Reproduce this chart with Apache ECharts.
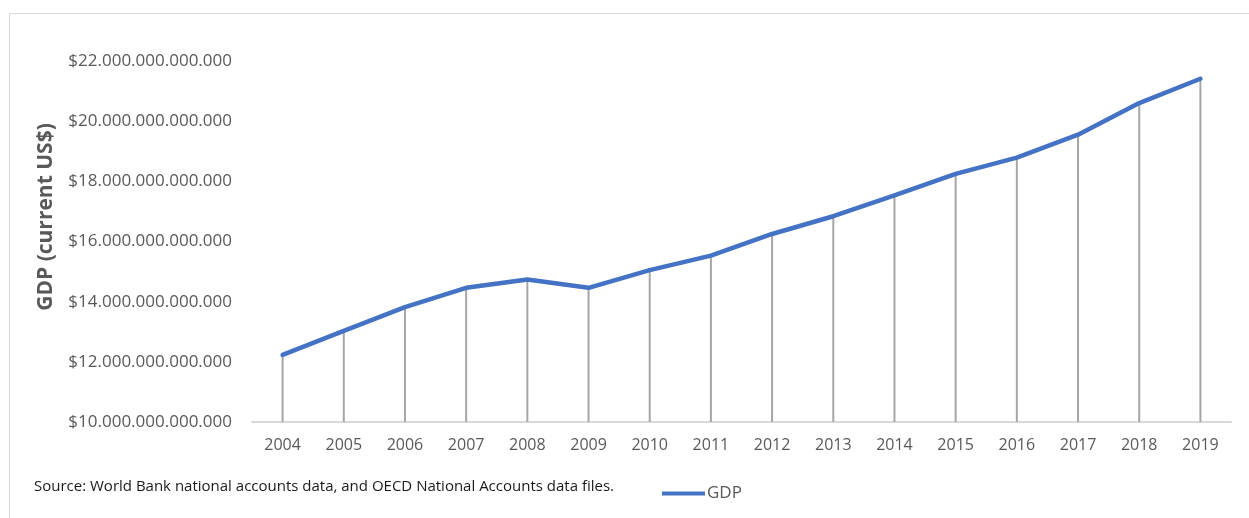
<!DOCTYPE html>
<html>
<head>
<meta charset="utf-8">
<script src="https://cdn.jsdelivr.net/npm/echarts@6/dist/echarts.min.js"></script>
<style>
  html, body { margin: 0; padding: 0; background: #fff; }
  #chart { width: 1249px; height: 518px; }
</style>
</head>
<body>
<div id="chart"></div>
<script>
// US GDP, current US$, 2004-2019
const years = ['2004', '2005', '2006', '2007', '2008', '2009', '2010', '2011',
               '2012', '2013', '2014', '2015', '2016', '2017', '2018', '2019'];
const gdp = [12.23e12, 13.03e12, 13.82e12, 14.46e12, 14.74e12, 14.46e12, 15.05e12, 15.53e12,
             16.25e12, 16.84e12, 17.53e12, 18.25e12, 18.79e12, 19.55e12, 20.60e12, 21.41e12];
const yMin = 10e12;
const yMax = 22e12;
const yStep = 2e12;
const yTitle = 'GDP (current US$)';
const seriesName = 'GDP';
const sourceNote = 'Source: World Bank national accounts data, and OECD National Accounts data files.';

const FONT = '"Open Sans", "Noto Sans", sans-serif';
const GREY_TEXT = '#595959';

// "$22.000.000.000.000" style: dot as thousands separator
function money(v) {
  const s = Math.round(v).toString().replace(/\B(?=(\d{3})+(?!\d))/g, '.');
  return '$' + s;
}

const chart = echarts.init(document.getElementById('chart'), null, { renderer: 'canvas' });

chart.setOption({
  backgroundColor: '#ffffff',
  animation: false,
  textStyle: { fontFamily: FONT },
  graphic: [
    {
      type: 'rect',
      left: 7, top: 11,
      shape: { width: 1400, height: 700 },
      style: { fill: 'none', stroke: '#D9D9D9', lineWidth: 1 },
      z: -10
    },
    {
      type: 'text',
      left: 34, top: 479,
      style: { text: sourceNote, font: '15px ' + FONT, fill: '#1a1a1a' }
    },
    {
      // rotated value-axis title
      type: 'text',
      x: 46, y: 217,
      rotation: Math.PI / 2,
      style: {
        text: yTitle,
        font: 'bold 21px ' + FONT,
        fill: GREY_TEXT,
        align: 'center',
        verticalAlign: 'middle'
      }
    }
  ],
  legend: {
    data: [seriesName],
    left: 657, top: 480,
    icon: 'rect',
    itemWidth: 43, itemHeight: 4,
    itemGap: 4,
    textStyle: { color: GREY_TEXT, fontSize: 17, fontFamily: FONT, padding: [0, 0, 0, -3] }
  },
  grid: { left: 252, right: 18, top: 61, bottom: 96, containLabel: false },
  xAxis: {
    type: 'category',
    data: years,
    boundaryGap: true,
    axisLine: { show: true, lineStyle: { color: '#D9D9D9', width: 2 } },
    axisTick: { show: false },
    axisLabel: { color: GREY_TEXT, fontSize: 16, fontFamily: FONT, margin: 15 },
    splitLine: { show: false }
  },
  yAxis: {
    type: 'value',
    min: yMin, max: yMax, interval: yStep,
    axisLine: { show: false },
    axisTick: { show: false },
    splitLine: { show: false },
    axisLabel: { color: GREY_TEXT, fontSize: 17, fontFamily: FONT, margin: 20, formatter: money }
  },
  series: [
    {
      // vertical drop lines from each point down to the category axis
      type: 'custom',
      name: 'drop',
      silent: true,
      z: 1,
      data: years.map((y, i) => [i, gdp[i]]),
      renderItem: function (params, api) {
        const top = api.coord([api.value(0), api.value(1)]);
        const base = api.coord([api.value(0), yMin]);
        return {
          type: 'line',
          shape: { x1: top[0], y1: top[1], x2: base[0], y2: base[1] },
          style: { stroke: '#A6A6A6', lineWidth: 2 }
        };
      }
    },
    {
      type: 'line',
      name: seriesName,
      data: gdp,
      z: 3,
      showSymbol: false,
      symbol: 'none',
      lineStyle: { color: '#4472C4', width: 4.5, cap: 'round', join: 'round' },
      itemStyle: { color: '#4472C4' }
    }
  ]
});
</script>
</body>
</html>
